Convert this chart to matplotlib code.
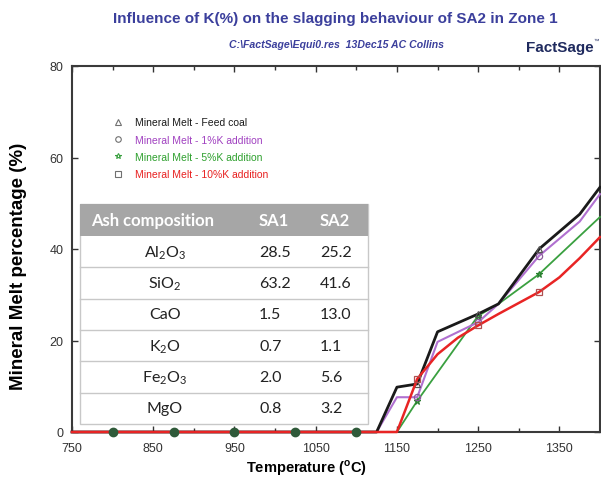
import matplotlib
matplotlib.use("Agg")
import matplotlib.pyplot as plt
from matplotlib.lines import Line2D
from matplotlib.patches import Rectangle
from matplotlib.ticker import MultipleLocator

# ---------------- data ----------------
temps_feed = [750, 800, 875, 950, 1025, 1100, 1125, 1150, 1175, 1200, 1250, 1275, 1325, 1375, 1400]
melt_feed = [0, 0, 0, 0, 0, 0, 0, 9.8, 10.5, 21.9, 25.8, 28.0, 40.0, 47.6, 53.5]
temps_k1 = [750, 800, 875, 950, 1025, 1100, 1125, 1150, 1175, 1200, 1250, 1275, 1325, 1375, 1400]
melt_k1 = [0, 0, 0, 0, 0, 0, 0, 7.6, 7.6, 19.7, 24.0, 28.0, 38.5, 46.0, 52.0]
temps_k5 = [750, 800, 875, 950, 1025, 1100, 1150, 1175, 1250, 1275, 1325, 1400]
melt_k5 = [0, 0, 0, 0, 0, 0, 0, 6.8, 25.4, 28.0, 34.5, 47.0]
temps_k10 = [750, 800, 875, 950, 1025, 1100, 1150, 1175, 1200, 1225, 1250, 1275, 1300, 1325, 1350, 1375, 1400]
melt_k10 = [0, 0, 0, 0, 0, 0, 0, 11.6, 17.0, 20.6, 23.3, 25.8, 28.2, 30.6, 33.8, 38.0, 42.6]
marker_temps = [800, 875, 950, 1025, 1100, 1175, 1250, 1325]

series_labels = ["Mineral Melt - Feed coal", "Mineral Melt - 1%K addition",
                 "Mineral Melt - 5%K addition", "Mineral Melt - 10%K addition"]

table_header = ["Ash composition", "SA1", "SA2"]
table_oxides = [r"Al$_{\mathregular{2}}$O$_{\mathregular{3}}$", r"SiO$_{\mathregular{2}}$", "CaO",
                r"K$_{\mathregular{2}}$O", r"Fe$_{\mathregular{2}}$O$_{\mathregular{3}}$", "MgO"]
table_sa1 = ["28.5", "63.2", "1.5", "0.7", "2.0", "0.8"]
table_sa2 = ["25.2", "41.6", "13.0", "1.1", "5.6", "3.2"]

x_ticks = [750, 850, 950, 1050, 1150, 1250, 1350]
y_ticks = [0, 20, 40, 60, 80]

# ---------------- figure ----------------
plt.rcParams['font.family'] = ['Liberation Sans', 'DejaVu Sans']
plt.rcParams['mathtext.fontset'] = 'custom'
plt.rcParams['mathtext.rm'] = 'Lato'

fig = plt.figure(figsize=(6.01, 4.81), dpi=100)
ax = fig.add_axes([72/601, 1-433/481, 528/601, 366/481])

styles = [
    dict(color='#1a1a1a', lw=2.0, marker='^', mec='#555555', z=5),
    dict(color='#b070d0', lw=1.5, marker='o', mec='#8a5a9a', z=4),
    dict(color='#3aa040', lw=1.3, marker='*', mec='#2a8030', z=3),
    dict(color='#e82424', lw=1.8, marker='s', mec='#b05050', z=6),
]
data = [(temps_feed, melt_feed), (temps_k1, melt_k1), (temps_k5, melt_k5), (temps_k10, melt_k10)]

for (t, v), st in zip(data, styles):
    ax.plot(t, v, color=st['color'], lw=st['lw'], zorder=st['z'], clip_on=False)
    mt = [x for x in marker_temps if x in t and v[t.index(x)] > 0]
    mv = [v[t.index(x)] for x in mt]
    ax.plot(mt, mv, ls='none', marker=st['marker'], ms=4.5, mfc='none',
            mec=st['mec'], mew=0.9, zorder=st['z'] + 1)

zero_t = [x for x in marker_temps if all(x in t and v[t.index(x)] == 0 for t, v in data)]
ax.plot(zero_t, [0] * len(zero_t), ls='none', marker='o', ms=6, color='#2f5a3a',
        zorder=8, clip_on=False)

ax.set_xlim(750, 1400)
ax.set_ylim(0, 80)
ax.set_xticks(x_ticks)
ax.set_yticks(y_ticks)
ax.xaxis.set_minor_locator(MultipleLocator(50))
ax.tick_params(which='both', direction='in', top=True, right=True, width=1.0,
               color='#333333', labelsize=9, labelcolor='#333333')
ax.tick_params(which='major', length=4)
ax.tick_params(which='minor', length=3)
ax.tick_params(axis='x', pad=7)
ax.tick_params(axis='y', pad=6)
for sp in ax.spines.values():
    sp.set_linewidth(1.5)
    sp.set_color('#3a3a3a')

ax.set_xlabel("Temperature ($^{\\mathregular{o}}$C)", fontsize=10.5, fontweight='bold')
ax.xaxis.set_label_coords((307 - 72) / 528, (433 - 458) / 366)
ax.set_ylabel("Mineral Melt percentage (%)", fontsize=13.5, fontweight='bold')
ax.yaxis.set_label_coords((27 - 72) / 528, (433 - 266) / 366)

# legend
handles = [Line2D([], [], ls='none', marker=st['marker'], ms=4, mfc='none',
                  mec='#707070' if i != 2 else '#3aa040', mew=0.8)
           for i, st in enumerate(styles)]
leg = ax.legend(handles, series_labels, loc='upper left', bbox_to_anchor=(0.06, 0.885),
                frameon=False, fontsize=7.5, handlelength=1.0, handletextpad=1.1,
                labelspacing=0.7, labelcolor=['#1a1a1a', '#a040c0', '#2ea02e', '#e82020'])

# table
def fx(px):
    return (px - 72) / 528
def fy(py):
    return (433 - py) / 366

tbl_left, tbl_right = 80, 368
header_top, header_bot = 205, 237
row_h = (425 - 237) / len(table_oxides)

ax.add_patch(Rectangle((fx(tbl_left), fy(425)), fx(tbl_right) - fx(tbl_left), fy(header_top) - fy(425),
                       transform=ax.transAxes, facecolor='white', edgecolor='#c8c8c8', lw=1.0, zorder=10))
ax.add_patch(Rectangle((fx(tbl_left), fy(header_bot)), fx(tbl_right) - fx(tbl_left), fy(header_top) - fy(header_bot),
                       transform=ax.transAxes, facecolor='#a6a6a6', edgecolor='none', zorder=11))
hy = fy((header_top + header_bot) / 2)
for txt, px in zip(table_header, [91, 259, 320]):
    ax.text(fx(px), hy, txt, transform=ax.transAxes, color='white', fontweight='bold',
            fontsize=12, family='Lato', ha='left', va='center', zorder=12)
for i, (ox, a, b) in enumerate(zip(table_oxides, table_sa1, table_sa2)):
    top = header_bot + i * row_h
    bot = top + row_h
    cy = fy((top + bot) / 2)
    if i > 0:
        ax.plot([fx(tbl_left), fx(tbl_right)], [fy(top), fy(top)], transform=ax.transAxes,
                color='#c8c8c8', lw=1.0, zorder=11)
    ax.text(fx(165), cy, ox, transform=ax.transAxes, color='#222222', fontsize=11.5, family='Lato',
            ha='center', va='center', zorder=12)
    ax.text(fx(259), cy, a, transform=ax.transAxes, color='#222222', fontsize=11.5, family='Lato',
            ha='left', va='center', zorder=12)
    ax.text(fx(320), cy, b, transform=ax.transAxes, color='#222222', fontsize=11.5, family='Lato',
            ha='left', va='center', zorder=12)

# titles
fig.text(335/601, 1-19/481, "Influence of K(%) on the slagging behaviour of SA2 in Zone 1",
         ha='center', va='center', fontsize=11, fontweight='bold', color='#3b3f9c')
fig.text(337/601, 1-45/481, "C:\\FactSage\\Equi0.res  13Dec15 AC Collins",
         ha='center', va='center', fontsize=7.6, fontweight='bold', style='italic', color='#3b3f9c')
fig.text(594/601, 1-48/481, "FactSage", ha='right', va='center', fontsize=11,
         fontweight='bold', color='#1f2a5e')
fig.text(599/601, 1-41/481, "\u2122", ha='right', va='center', fontsize=4, color='#1f2a5e')

fig.savefig("out.png", dpi=100)
